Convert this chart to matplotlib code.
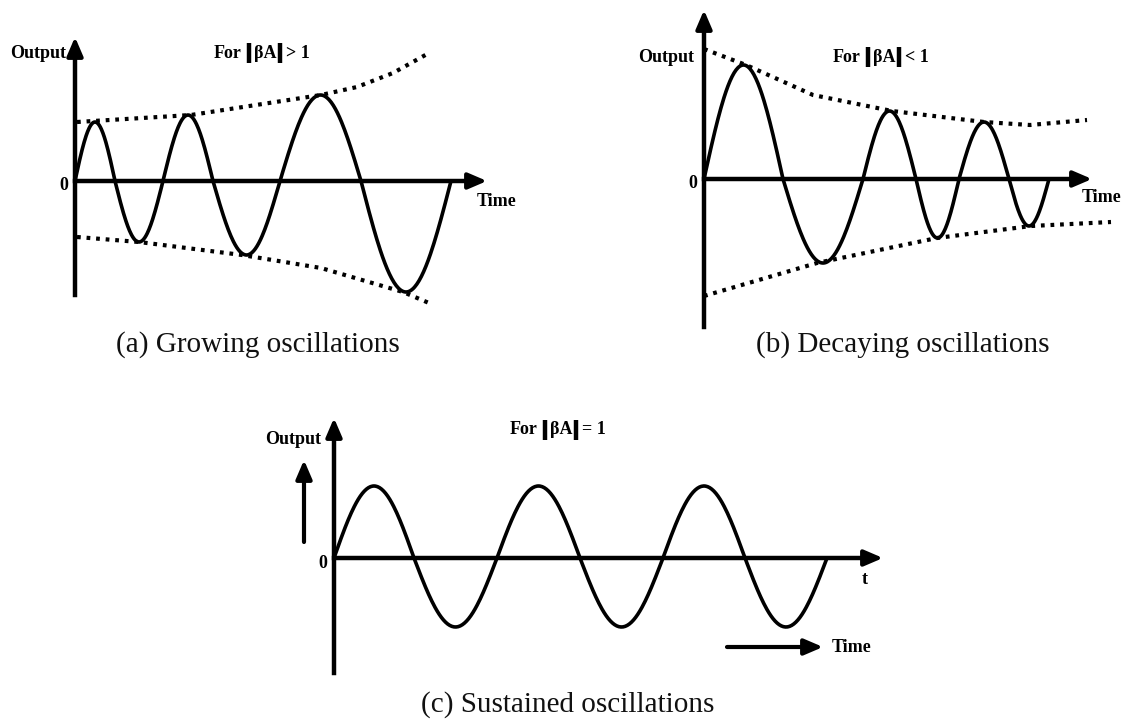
import numpy as np
import matplotlib.pyplot as plt

# zero crossings (time, px from origin) and lobe amplitudes for each trace
grow_cross = [0, 40, 88, 138, 205, 286, 376]
grow_amp = [59, -61, 66, -74, 86, -111]
grow_up_t = [2, 116, 246, 282, 318, 354]
grow_up_a = [59, 66, 86, 94, 108, 128]
grow_lo_t = [2, 64, 167, 246, 328, 354]
grow_lo_a = [-56, -61, -74, -87, -111, -122]

decay_cross = [0, 79, 159, 212, 255, 305, 345]
decay_amp = [114, -84, 68, -59, 57, -47]
decay_up_t = [0, 42, 109, 188, 280, 326, 383]
decay_up_a = [130, 114, 84, 68, 57, 54, 59]
decay_lo_t = [0, 113, 233, 327, 407]
decay_lo_a = [-117, -84, -59, -47, -43]

sust_cross = [0, 80, 163, 246, 329, 411, 493]
sust_amp = [72, -69, 72, -69, 72, -69]

captions = ["(a) Growing oscillations", "(b) Decaying oscillations",
            "(c) Sustained oscillations"]
# title pieces: text before the bars, inside them, after them
titles = [("For", "βA", "> 1"), ("For", "βA", "< 1"), ("For", "βA", "= 1")]

W, H = 1126, 724
fig = plt.figure(figsize=(W / 100, H / 100), dpi=100)
ax = fig.add_axes([0, 0, 1, 1])
ax.set_xlim(0, W)
ax.set_ylim(H, 0)
ax.axis("off")
renderer = fig.canvas.get_renderer()

LW = 2.6
bold = dict(family="Liberation Serif", weight="bold", fontsize=13, color="k")


def arrow(x0, y0, x1, y1):
    ax.annotate("", xy=(x1, y1), xytext=(x0, y0),
                arrowprops=dict(arrowstyle="-|>,head_length=0.7,head_width=0.3",
                                lw=3, color="k", shrinkA=0, shrinkB=0,
                                mutation_scale=16))


def wave(ox, oy, cross, amp):
    xs, ys = [], []
    for c0, c1, a in zip(cross[:-1], cross[1:], amp):
        t = np.linspace(c0, c1, 80)
        xs.append(t)
        ys.append(a * np.sin(np.pi * (t - c0) / (c1 - c0)))
    t = np.concatenate(xs)
    y = np.concatenate(ys)
    ax.plot(ox + t, oy - y, color="k", lw=LW, solid_capstyle="round", zorder=3)


def envelope(ox, oy, t, a):
    ax.plot(ox + np.array(t), oy - np.array(a), color="k", lw=3,
            linestyle=(0, (0.9, 1.4)), zorder=2)


def title(x, y, parts):
    # "For |βA| > 1" with heavy modulus bars
    pre, mid, post = parts
    gaps = [(7, 5), (4, 6)]
    for i, s in enumerate((pre, mid, post)):
        t = ax.text(x, y, s, ha="left", va="center", **bold)
        x += t.get_window_extent(renderer).width
        if i < 2:
            x += gaps[i][0]
            ax.plot([x, x], [y - 10, y + 10], color="k", lw=3.2,
                    solid_capstyle="butt")
            x += gaps[i][1]


def panel(ox, oy, top, bottom, xend, parts, title_xy, out_xy, time_xy):
    ax.plot([ox, ox], [bottom, top + 10], color="k", lw=3.2)
    arrow(ox, top + 12, ox, top)
    ax.plot([ox, xend - 10], [oy, oy], color="k", lw=3.2)
    arrow(xend - 12, oy, xend, oy)
    ax.text(ox - 11, oy + 5, "0", ha="center", va="center", **bold)
    ax.text(*out_xy, "Output", ha="right", va="center", **bold)
    title(*title_xy, parts)
    if time_xy is not None:
        ax.text(*time_xy, "Time", ha="left", va="center", **bold)


# (a) growing
panel(75, 181, 37, 295, 487, titles[0], (214, 53), (66, 53), (477, 201))
wave(75, 181, grow_cross, grow_amp)
envelope(75, 181, grow_up_t, grow_up_a)
envelope(75, 181, grow_lo_t, grow_lo_a)

# (b) decaying
panel(704, 179, 10, 327, 1092, titles[1], (833, 57), (694, 57), (1082, 197))
wave(704, 179, decay_cross, decay_amp)
envelope(704, 179, decay_up_t, decay_up_a)
envelope(704, 179, decay_lo_t, decay_lo_a)

# (c) sustained
panel(334, 558, 418, 673, 883, titles[2], (510, 430), (321, 440), None)
wave(334, 558, sust_cross, sust_amp)
ax.text(865, 580, "t", ha="center", va="center", **bold)
arrow(304, 542, 304, 460)
arrow(727, 647, 823, 647)
ax.text(832, 647, "Time", ha="left", va="center", **bold)

cap = dict(family="Liberation Serif", fontsize=21, color="#111111",
           ha="center", va="center")
ax.text(258, 345, captions[0], **cap)
ax.text(903, 345, captions[1], **cap)
ax.text(568, 705, captions[2], **cap)

fig.savefig("out.png", dpi=100, facecolor="white")
